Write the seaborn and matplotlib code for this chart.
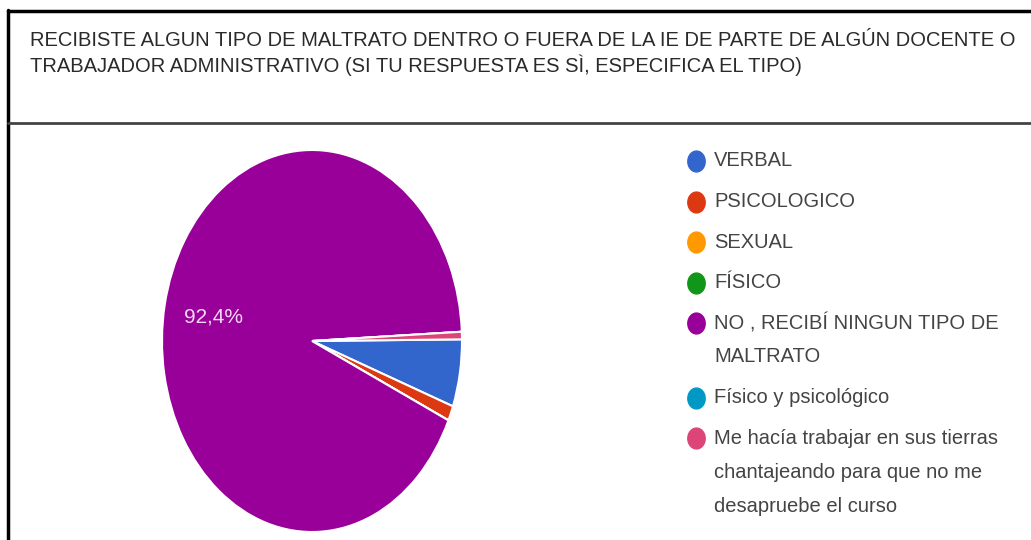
"""
    Pie chart of survey answers about mistreatment (Google Forms style)
"""

import numpy as np
import pandas as pd
import seaborn as sns
import matplotlib.pyplot as plt
from matplotlib.lines import Line2D
from matplotlib.path import Path


# DATA
categories = ["VERBAL", "PSICOLOGICO", "SEXUAL", "FÍSICO",
              "NO , RECIBÍ NINGUN TIPO DE\nMALTRATO",
              "Físico y psicológico",
              "Me hacía trabajar en sus tierras\nchantajeando para que no me\ndesapruebe el curso"]
counts = [9, 2, 0, 0, 146, 0, 1]
colors = ["#3366cc", "#dc3912", "#ff9900", "#109618", "#990099", "#0099c6", "#dd4477"]
title = ("RECIBISTE ALGUN TIPO DE MALTRATO DENTRO O FUERA DE LA IE DE PARTE DE ALGÚN DOCENTE O\n"
         "TRABAJADOR ADMINISTRATIVO (SI TU RESPUESTA ES SÌ, ESPECIFICA EL TIPO)")

df = pd.DataFrame({"tipo": categories, "n": counts})

W, H = 1031, 540


def fx(x):
    return x / W


def fy(y):
    return 1 - y / H


sns.set_theme(style="white")
palette = sns.color_palette(colors)
plt.rcParams['font.family'] = ['Liberation Sans', 'DejaVu Sans']

fig = plt.figure(figsize=(W / 100, H / 100), dpi=100)

# pie area (stretched vertically like the screenshot)
ax = fig.add_axes([fx(162), fy(532), 300 / W, 382 / H])


def pct(p):
    return ("%.1f%%" % p).replace(".", ",") if p > 50 else ""


wedges, texts, autotexts = ax.pie(df["n"], colors=palette, startangle=0.5,
                                  counterclock=False, autopct=pct,
                                  pctdistance=0.67,
                                  wedgeprops={"edgecolor": "white", "linewidth": 1.5})
for t in autotexts:
    t.set_color("#f4d8f4")
    t.set_fontsize(15)
ax.set_aspect("auto")
ax.set_xlim(-1, 1)
ax.set_ylim(-1, 1)

# legend (drawn by hand so the dot sits on the first line of each label)
theta = np.linspace(0, 2 * np.pi, 60)
dot = Path(np.column_stack([np.cos(theta), 1.2 * np.sin(theta)]))
y = 161
for i, row in df.iterrows():
    fig.add_artist(Line2D([fx(696)], [fy(y)], marker=dot, markersize=15,
                          color=colors[i], linestyle=""))
    lines = row["tipo"].split("\n")
    for k, line in enumerate(lines):
        fig.text(fx(714), fy(y + 34 * k), line, ha="left", va="center",
                 fontsize=14.5, color="#444444")
    y += 40.5 + 34 * (len(lines) - 1)

# title
fig.text(fx(30), fy(31), title, ha="left", va="top", fontsize=14.5,
         color="#2a2a2a", linespacing=1.25)

# frame lines
fig.add_artist(Line2D([fx(8), fx(8)], [fy(10), fy(540)], color="black", lw=2.5))
fig.add_artist(Line2D([fx(8), fx(1031)], [fy(11), fy(11)], color="black", lw=2.5))
fig.add_artist(Line2D([fx(8), fx(1031)], [fy(123), fy(123)], color="#444444", lw=2.0))

plt.savefig("out.png", dpi=100)
